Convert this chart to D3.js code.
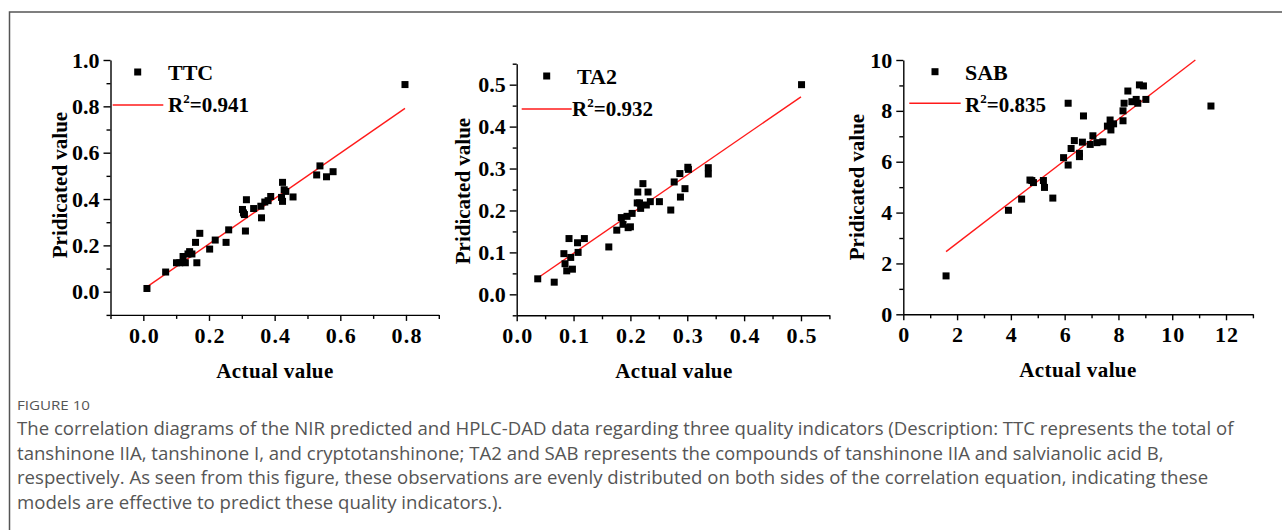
<!DOCTYPE html>
<html>
<head>
<meta charset="utf-8">
<script src="https://cdn.jsdelivr.net/npm/d3@7"></script>
<style>
  html, body { margin: 0; padding: 0; background: #fff; }
  svg { display: block; }
  .tick text, .lbl { font-family: "Liberation Serif", "Times New Roman", serif; font-weight: bold; fill: #000; }
  .cap { font-family: "Open Sans", "Noto Sans", sans-serif; fill: #555; }
</style>
</head>
<body>
<svg id="fig" width="1282" height="530"></svg>
<script>
// ---- TTC: total tanshinones ----
const ttcActual = [0.011, 0.068, 0.101, 0.111, 0.121, 0.128, 0.136, 0.141, 0.148, 0.159, 0.163, 0.172,
  0.202, 0.219, 0.252, 0.260, 0.302, 0.308, 0.311, 0.314, 0.305, 0.336, 0.358, 0.360, 0.370, 0.380,
  0.388, 0.421, 0.424, 0.424, 0.429, 0.434, 0.456, 0.528, 0.538, 0.558, 0.578, 0.797];
const ttcPredicted = [0.014, 0.085, 0.125, 0.125, 0.152, 0.125, 0.163, 0.173, 0.163, 0.213, 0.125, 0.252,
  0.184, 0.223, 0.213, 0.267, 0.355, 0.333, 0.262, 0.397, 0.340, 0.359, 0.369, 0.319, 0.387, 0.393,
  0.411, 0.407, 0.472, 0.390, 0.440, 0.433, 0.409, 0.504, 0.543, 0.496, 0.518, 0.894];
const ttcFit = [0.98, 0.01];          // slope, intercept
const ttcFitSpan = [0.011, 0.797];
const ttcR2 = "0.941";

// ---- TA2: tanshinone IIA ----
const ta2Actual = [0.037, 0.066, 0.083, 0.085, 0.088, 0.092, 0.095, 0.098, 0.107, 0.108, 0.119, 0.162,
  0.176, 0.184, 0.187, 0.194, 0.196, 0.200, 0.203, 0.212, 0.213, 0.216, 0.218, 0.222, 0.228, 0.231,
  0.235, 0.251, 0.271, 0.277, 0.287, 0.288, 0.296, 0.301, 0.302, 0.337, 0.337, 0.501];
const ta2Predicted = [0.037, 0.029, 0.097, 0.073, 0.056, 0.133, 0.088, 0.060, 0.123, 0.100, 0.133, 0.113,
  0.153, 0.183, 0.167, 0.186, 0.159, 0.161, 0.193, 0.218, 0.244, 0.218, 0.205, 0.264, 0.213, 0.244,
  0.221, 0.221, 0.201, 0.268, 0.288, 0.232, 0.252, 0.303, 0.298, 0.302, 0.287, 0.500];
const ta2Fit = [0.933, 0.0045];
const ta2FitSpan = [0.037, 0.5];
const ta2R2 = "0.932";

// ---- SAB: salvianolic acid B ----
const sabActual = [1.59, 3.91, 4.40, 4.71, 4.78, 4.84, 5.21, 5.25, 5.56, 5.96, 6.13, 6.13, 6.24, 6.36,
  6.55, 6.55, 6.66, 6.70, 6.95, 7.05, 7.20, 7.42, 7.59, 7.69, 7.72, 7.82, 8.17, 8.17, 8.21, 8.35,
  8.50, 8.66, 8.72, 8.78, 8.93, 9.02, 11.44];
const sabPredicted = [1.51, 4.09, 4.53, 5.28, 5.26, 5.18, 5.26, 4.99, 4.57, 6.16, 8.30, 5.87, 6.52, 6.83,
  6.33, 6.20, 6.77, 7.80, 6.68, 7.02, 6.75, 6.78, 7.40, 7.64, 7.25, 7.49, 8.00, 7.61, 8.30, 8.78,
  8.36, 8.45, 8.30, 9.02, 8.98, 8.45, 8.19];
const sabFit = [0.813, 1.17];
const sabFitSpan = [1.59, 10.86];
const sabR2 = "0.835";

// Axis ticks
const ttcXMajor = [0, 0.2, 0.4, 0.6, 0.8], ttcXMinor = [-0.1, 0.1, 0.3, 0.5, 0.7, 0.9];
const ttcYMajor = [0, 0.2, 0.4, 0.6, 0.8, 1.0], ttcYMinor = [-0.1, 0.1, 0.3, 0.5, 0.7, 0.9];
const ta2XMajor = [0, 0.1, 0.2, 0.3, 0.4, 0.5], ta2XMinor = [0.05, 0.15, 0.25, 0.35, 0.45, 0.55];
const ta2YMajor = [0, 0.1, 0.2, 0.3, 0.4, 0.5], ta2YMinor = [-0.05, 0.05, 0.15, 0.25, 0.35, 0.45, 0.55];
const sabXMajor = [0, 2, 4, 6, 8, 10, 12], sabXMinor = [1, 3, 5, 7, 9, 11, 13];
const sabYMajor = [0, 2, 4, 6, 8, 10], sabYMinor = [1, 3, 5, 7, 9];

const captionTitle = "FIGURE 10";
const captionLines = [
  "The correlation diagrams of the NIR predicted and HPLC-DAD data regarding three quality indicators (Description: TTC represents the total of",
  "tanshinone IIA, tanshinone I, and cryptotanshinone; TA2 and SAB represents the compounds of tanshinone IIA and salvianolic acid B,",
  "respectively. As seen from this figure, these observations are evenly distributed on both sides of the correlation equation, indicating these",
  "models are effective to predict these quality indicators.)."
];

const svg = d3.select("#fig");

// frame around the figure block
svg.append("path")
  .attr("d", "M9.5,540 V12 H1290")
  .attr("fill", "none").attr("stroke", "#555").attr("stroke-width", 1.5);

function drawPanel(p) {
  const g = svg.append("g");
  const x = d3.scaleLinear().domain(p.xDomain).range(p.xRange);
  const y = d3.scaleLinear().domain(p.yDomain).range(p.yRange);
  const y0 = p.yRange[0], x0 = p.xRange[0];

  // minor ticks
  g.append("g").attr("transform", `translate(0,${y0})`)
    .call(d3.axisBottom(x).tickValues(p.xMinor).tickSize(4).tickFormat("").tickSizeOuter(0))
    .call(a => a.select(".domain").remove());
  g.append("g").attr("transform", `translate(${x0},0)`)
    .call(d3.axisLeft(y).tickValues(p.yMinor).tickSize(4).tickFormat("").tickSizeOuter(0))
    .call(a => a.select(".domain").remove());

  // major ticks + labels
  const xa = g.append("g").attr("transform", `translate(0,${y0})`)
    .call(d3.axisBottom(x).tickValues(p.xMajor).tickSize(6).tickPadding(6).tickFormat(p.fmt).tickSizeOuter(0));
  xa.selectAll(".tick text").attr("font-size", 22).attr("dx", "0.6px").style("letter-spacing", "1.2px").attr("dy", "0.71em");
  const ya = g.append("g").attr("transform", `translate(${x0},0)`)
    .call(d3.axisLeft(y).tickValues(p.yMajor).tickSize(7).tickPadding(4).tickFormat(p.fmt).tickSizeOuter(0));
  ya.selectAll(".tick text").attr("font-size", 22);

  g.selectAll(".domain, .tick line").attr("stroke", "#000").attr("stroke-width", 1.4);

  // fit line
  const line = d3.line().x(d => x(d)).y(d => y(p.fit[0] * d + p.fit[1]));
  g.append("path").datum(p.fitSpan).attr("d", line)
    .attr("fill", "none").attr("stroke", "#ff1a1a").attr("stroke-width", 1.4);

  // points
  const pts = p.xs.map((v, i) => [v, p.ys[i]]);
  const s = 7;
  g.selectAll("rect.pt").data(pts).join("rect").attr("class", "pt")
    .attr("x", d => x(d[0]) - s / 2).attr("y", d => y(d[1]) - s / 2)
    .attr("width", s).attr("height", s).attr("fill", "#000");

  // legend
  const L = p.legend;
  g.append("rect").attr("x", L.mx - s / 2).attr("y", L.my - s / 2).attr("width", s).attr("height", s).attr("fill", "#000");
  g.append("text").attr("class", "lbl").attr("x", L.tx).attr("y", L.ty1).attr("font-size", 22).text(p.name);
  g.append("line").attr("x1", L.lx1).attr("x2", L.lx2).attr("y1", L.ly).attr("y2", L.ly)
    .attr("stroke", "#ff1a1a").attr("stroke-width", 1.4);
  const rt = g.append("text").attr("class", "lbl").attr("x", L.tx2).attr("y", L.ty2).attr("font-size", 21);
  rt.append("tspan").text("R");
  rt.append("tspan").attr("font-size", 13).attr("dy", -9).text("2");
  rt.append("tspan").attr("dy", 9).text("=" + p.r2);

  // axis titles
  g.append("text").attr("class", "lbl").attr("x", p.xTitle[0]).attr("y", p.xTitle[1])
    .attr("font-size", 21).attr("text-anchor", "middle").style("letter-spacing", "0.4px").text("Actual value");
  g.append("text").attr("class", "lbl")
    .attr("transform", `translate(${p.yTitle[0]},${p.yTitle[1]}) rotate(-90)`)
    .attr("font-size", 21).attr("text-anchor", "middle").attr("dominant-baseline", "central")
    .text("Pridicated value");
}

drawPanel({
  name: "TTC", r2: ttcR2, xs: ttcActual, ys: ttcPredicted, fit: ttcFit, fitSpan: ttcFitSpan,
  xDomain: [-0.1, 0.9], xRange: [110.5, 438.8], yDomain: [-0.1, 1.0], yRange: [314.9, 60],
  xMajor: ttcXMajor, xMinor: ttcXMinor, yMajor: ttcYMajor, yMinor: ttcYMinor, fmt: d3.format(".1f"),
  legend: { mx: 137.7, my: 72, tx: 168, ty1: 80, lx1: 112.7, lx2: 163.3, ly: 105, tx2: 168, ty2: 112 },
  xTitle: [275, 378], yTitle: [60, 185]
});
drawPanel({
  name: "TA2", r2: ta2R2, xs: ta2Actual, ys: ta2Predicted, fit: ta2Fit, fitSpan: ta2FitSpan,
  xDomain: [0, 0.55], xRange: [516.7, 829.4], yDomain: [-0.05, 0.55], yRange: [315.3, 63.7],
  xMajor: ta2XMajor, xMinor: ta2XMinor, yMajor: ta2YMajor, yMinor: ta2YMinor, fmt: d3.format(".1f"),
  legend: { mx: 546.7, my: 76, tx: 577, ty1: 83.5, lx1: 521.7, lx2: 571.7, ly: 109, tx2: 572, ty2: 116 },
  xTitle: [674, 378], yTitle: [463, 191]
});
drawPanel({
  name: "SAB", r2: sabR2, xs: sabActual, ys: sabPredicted, fit: sabFit, fitSpan: sabFitSpan,
  xDomain: [0, 13], xRange: [903.3, 1252.9], yDomain: [0, 10], yRange: [314.3, 60],
  xMajor: sabXMajor, xMinor: sabXMinor, yMajor: sabYMajor, yMinor: sabYMinor, fmt: d3.format("d"),
  legend: { mx: 935, my: 71.7, tx: 965, ty1: 79.5, lx1: 909.3, lx2: 960.7, ly: 103.3, tx2: 965, ty2: 111.7 },
  xTitle: [1078, 377], yTitle: [857, 187]
});

// caption
svg.append("text").attr("class", "cap").attr("x", 17).attr("y", 410)
  .attr("font-size", 13).attr("textLength", 73).attr("lengthAdjust", "spacingAndGlyphs").text(captionTitle);
svg.selectAll("text.capline").data(captionLines).join("text")
  .attr("class", "cap capline").attr("x", 17).attr("y", (d, i) => 435 + i * 24.5)
  .attr("font-size", 18.6)
  .text(d => d);
</script>
</body>
</html>
